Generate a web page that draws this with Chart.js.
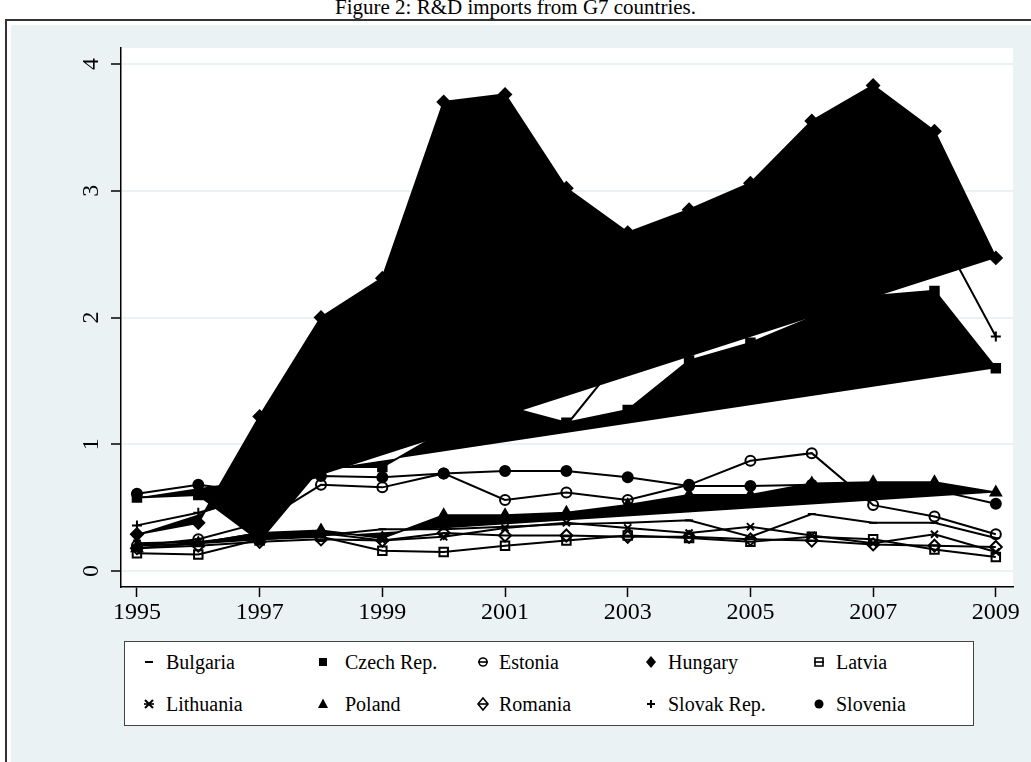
<!DOCTYPE html>
<html>
<head>
<meta charset="utf-8">
<script src="https://cdn.jsdelivr.net/npm/chart.js@4.4.0/dist/chart.umd.min.js"></script>
<style>
  body { margin: 0; width: 1031px; height: 762px; overflow: hidden; background: #fff; position: relative;
         font-family: "Liberation Serif", "Times New Roman", serif; }
  #title { position: absolute; left: 0; width: 1031px; top: -5px; text-align: center; font-size: 21px; color: #000; }
  #frame { position: absolute; left: 5px; top: 19px; width: 1040px; height: 760px; border: 2px solid #333;
           background: #eaf2f3; box-shadow: inset 0 0 0 4px #fff; }
  #wrap { position: absolute; left: 0; top: 0; width: 1031px; height: 640px; }
  #legend { position: absolute; left: 124px; top: 641px; width: 850px; height: 85px; background: #fff;
            border: 1px solid #444; box-sizing: border-box; }
  #legend canvas { position: absolute; }
  .item { position: absolute; font-size: 20px; line-height: 22px; white-space: nowrap; }
</style>
</head>
<body>
<div id="title">Figure 2: R&amp;D imports from G7 countries.</div>
<div id="frame"></div>
<div id="wrap"><canvas id="chart" width="1031" height="640"></canvas></div>
<div id="legend"></div>
<script>
// values
const years = [1995, 1996, 1997, 1998, 1999, 2000, 2001, 2002, 2003, 2004, 2005, 2006, 2007, 2008, 2009];
const xTicks = [1995, 1997, 1999, 2001, 2003, 2005, 2007, 2009];
const yTicks = [0, 1, 2, 3, 4];

const bulgaria  = [0.20, 0.22, 0.30, 0.28, 0.33, 0.33, 0.35, 0.37, 0.38, 0.40, 0.27, 0.45, 0.38, 0.38, 0.26];
const czech     = [0.58, 0.60, 0.24, 0.82, 0.82, 1.10, 1.30, 1.17, 1.27, 1.66, 1.80, 2.00, 2.17, 2.21, 1.60];
const estonia   = [0.20, 0.25, 0.38, 0.68, 0.66, 0.77, 0.56, 0.62, 0.56, 0.68, 0.87, 0.93, 0.52, 0.43, 0.29];
const hungary   = [0.29, 0.38, 1.22, 2.00, 2.31, 3.70, 3.76, 3.02, 2.67, 2.85, 3.06, 3.55, 3.83, 3.47, 2.47];
const latvia    = [0.14, 0.13, 0.25, 0.27, 0.16, 0.15, 0.20, 0.24, 0.28, 0.26, 0.23, 0.27, 0.25, 0.17, 0.11];
const lithuania = [0.22, 0.23, 0.28, 0.30, 0.24, 0.27, 0.34, 0.38, 0.34, 0.30, 0.35, 0.28, 0.22, 0.29, 0.15];
const poland    = [0.18, 0.22, 0.30, 0.32, 0.26, 0.44, 0.44, 0.46, 0.52, 0.60, 0.60, 0.69, 0.70, 0.70, 0.62];
const romania   = [0.18, 0.20, 0.23, 0.25, 0.24, 0.30, 0.28, 0.28, 0.27, 0.27, 0.25, 0.24, 0.21, 0.20, 0.19];
const slovak    = [0.36, 0.46, 0.60, 0.85, 1.00, 1.20, 1.30, 1.15, 1.75, 1.90, 2.10, 2.30, 2.55, 2.75, 1.85];
const slovenia  = [0.61, 0.68, 0.62, 0.75, 0.74, 0.77, 0.79, 0.79, 0.74, 0.67, 0.67, 0.68, 0.66, 0.64, 0.53];

const countries = ["Bulgaria", "Czech Rep.", "Estonia", "Hungary", "Latvia",
                   "Lithuania", "Poland", "Romania", "Slovak Rep.", "Slovenia"];
const values = [bulgaria, czech, estonia, hungary, latvia, lithuania, poland, romania, slovak, slovenia];

// marker look per country (same order)
const markers = [
  { style: "line",     r: 4, hollow: false, area: false },
  { style: "rect",     r: 6, hollow: false, area: true },
  { style: "circle",   r: 5, hollow: true,  area: false },
  { style: "rectRot",  r: 6, hollow: false, area: true },
  { style: "rect",     r: 6, hollow: true,  area: false },
  { style: "crossRot", r: 5, hollow: false, area: false },
  { style: "triangle", r: 6, hollow: false, area: true },
  { style: "rectRot",  r: 6, hollow: true,  area: false },
  { style: "cross",    r: 5, hollow: false, area: false },
  { style: "circle",   r: 5, hollow: false, area: false }
];

const SERIF = '"Liberation Serif", "Times New Roman", serif';

const datasets = countries.map((name, i) => ({
  label: name,
  data: years.map((yr, j) => ({ x: yr, y: values[i][j] })),
  showLine: true,
  tension: 0,
  borderColor: "#000",
  borderWidth: 2,
  backgroundColor: "#000",
  fill: markers[i].area ? "shape" : false,
  pointStyle: markers[i].style,
  pointRadius: markers[i].r,
  pointBorderWidth: 2,
  pointBorderColor: "#000",
  pointBackgroundColor: markers[i].hollow ? "rgba(0,0,0,0)" : "#000",
  order: 10 - i
}));

// white plot region + rotated y labels like the original
const plotBg = {
  id: "plotBg",
  beforeDraw(chart) {
    const a = chart.chartArea, ctx = chart.ctx;
    ctx.save();
    ctx.fillStyle = "#fff";
    ctx.fillRect(a.left, a.top, a.right - a.left, a.bottom - a.top);
    ctx.restore();
  },
  afterDraw(chart) {
    const ys = chart.scales.y, ctx = chart.ctx;
    ctx.save();
    ctx.font = "24px " + SERIF;
    ctx.fillStyle = "#000";
    ctx.textAlign = "center";
    ctx.textBaseline = "middle";
    ys.ticks.forEach(t => {
      const py = ys.getPixelForValue(t.value);
      ctx.save();
      ctx.translate(92, py);
      ctx.rotate(-Math.PI / 2);
      ctx.fillText(String(t.value), 0, 0);
      ctx.restore();
    });
    ctx.restore();
  }
};

new Chart(document.getElementById("chart"), {
  type: "scatter",
  data: { datasets },
  plugins: [plotBg],
  options: {
    responsive: false,
    animation: false,
    devicePixelRatio: 1,
    layout: { padding: { top: 48, right: 18, left: 0, bottom: 0 } },
    plugins: { legend: { display: false }, tooltip: { enabled: false } },
    scales: {
      x: {
        type: "linear",
        min: 1994.74,
        max: 2009.28,
        afterBuildTicks: s => { s.ticks = xTicks.map(v => ({ value: v })); },
        afterFit: s => { s.height = 53; },
        grid: { drawOnChartArea: false, tickLength: 10, tickColor: "#000", tickWidth: 1.5 },
        border: { color: "#000", width: 1.5 },
        ticks: { color: "#000", font: { family: SERIF, size: 24 }, padding: 1,
                 maxRotation: 0, autoSkip: false, callback: v => String(v) }
      },
      y: {
        min: -0.126,
        max: 4.126,
        afterBuildTicks: s => { s.ticks = yTicks.map(v => ({ value: v })); },
        afterFit: s => { s.width = 121; },
        grid: { color: "#eaf2f3", lineWidth: 2, tickColor: "#000", tickLength: 10, tickWidth: 1.5 },
        border: { color: "#000", width: 1.5 },
        ticks: { display: false }
      }
    }
  }
});

// legend, 5 columns x 2 rows
const colMarker = [24, 198, 358, 526, 694];
const colText = [41, 220, 374, 543, 711];
const rowY = [20, 62];
const legend = document.getElementById("legend");

function drawKey(ctx, m) {
  const cx = 11, cy = 11;
  ctx.strokeStyle = "#000";
  ctx.fillStyle = "#000";
  ctx.lineWidth = 1.6;
  if (m.hollow || m.style === "crossRot") {
    ctx.beginPath(); ctx.moveTo(cx - 5, cy); ctx.lineTo(cx + 5, cy); ctx.stroke();
  }
  ctx.beginPath();
  const r = 4.5;
  switch (m.style) {
    case "line":
      ctx.lineWidth = 2; ctx.moveTo(cx - 4, cy); ctx.lineTo(cx + 4, cy); ctx.stroke(); return;
    case "rect":
      ctx.rect(cx - r + 0.5, cy - r + 0.5, 2 * r - 1, 2 * r - 1); break;
    case "circle":
      ctx.arc(cx, cy, m.hollow ? 4 : 4.5, 0, Math.PI * 2); break;
    case "rectRot":
      ctx.moveTo(cx, cy - 6); ctx.lineTo(cx + 5, cy); ctx.lineTo(cx, cy + 6); ctx.lineTo(cx - 5, cy); ctx.closePath(); break;
    case "triangle":
      ctx.moveTo(cx, cy - 5.5); ctx.lineTo(cx + 5, cy + 4); ctx.lineTo(cx - 5, cy + 4); ctx.closePath(); break;
    case "crossRot":
      ctx.lineWidth = 2; ctx.moveTo(cx - 4, cy - 4); ctx.lineTo(cx + 4, cy + 4);
      ctx.moveTo(cx + 4, cy - 4); ctx.lineTo(cx - 4, cy + 4); ctx.stroke(); return;
    case "cross":
      ctx.lineWidth = 2; ctx.moveTo(cx - 4, cy); ctx.lineTo(cx + 4, cy);
      ctx.moveTo(cx, cy - 4); ctx.lineTo(cx, cy + 4); ctx.stroke(); return;
  }
  if (m.hollow) { ctx.stroke(); } else { ctx.fill(); }
}

countries.forEach((name, i) => {
  const row = Math.floor(i / 5), col = i % 5;
  const c = document.createElement("canvas");
  c.width = 22; c.height = 22;
  c.style.left = (colMarker[col] - 11) + "px";
  c.style.top = (rowY[row] - 11) + "px";
  legend.appendChild(c);
  drawKey(c.getContext("2d"), markers[i]);
  const t = document.createElement("div");
  t.className = "item";
  t.style.left = colText[col] + "px";
  t.style.top = (rowY[row] - 11) + "px";
  t.textContent = name;
  legend.appendChild(t);
});
</script>
</body>
</html>
